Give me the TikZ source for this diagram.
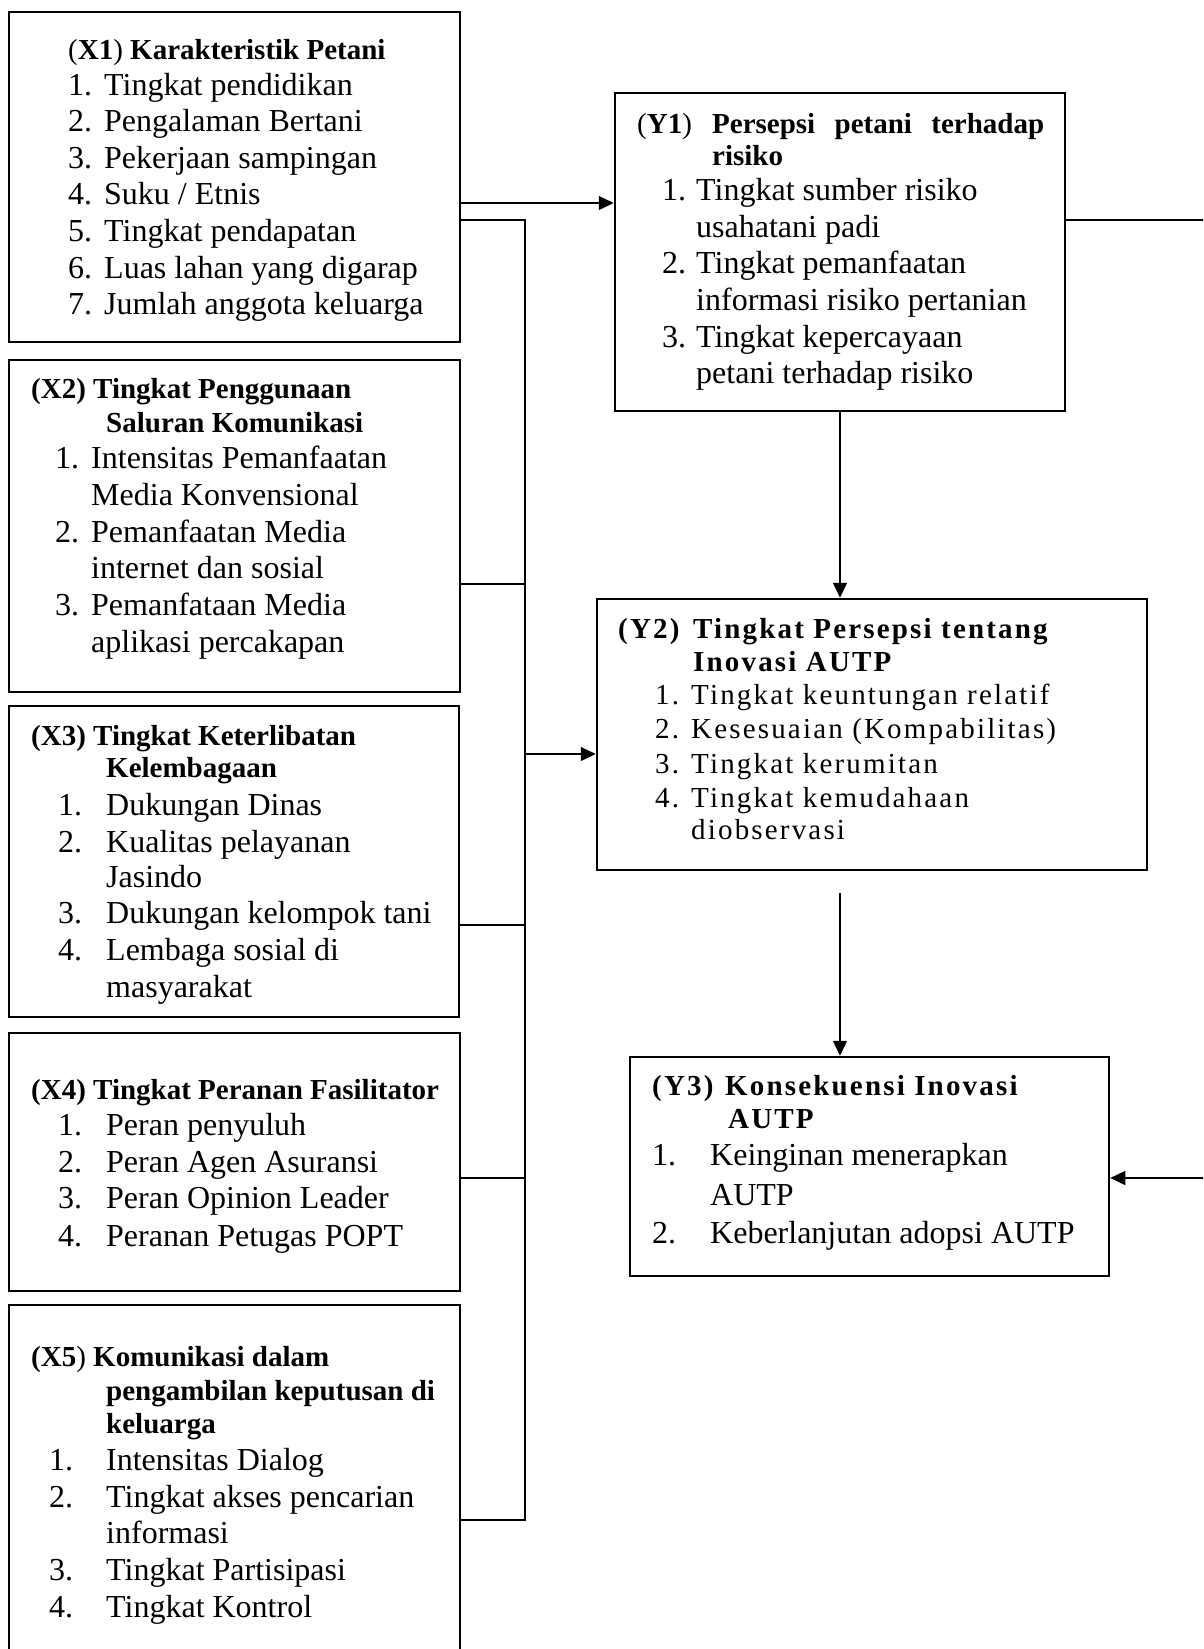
\documentclass[tikz,border=0pt]{standalone}
\usepackage{fontspec}
\setmainfont{Liberation Serif}
\newfontfamily\spacedfont[LetterSpace=7.5]{Liberation Serif}
\usetikzlibrary{arrows.meta}

\tikzset{
  box/.style={draw, line width=2.5pt, inner sep=0pt},
  conn/.style={line width=1.3pt},
  arr/.style={conn, -{Triangle[length=15pt,width=14pt]}},
  tx/.style={anchor=base west, inner sep=0pt, font=\fontsize{32}{36}\selectfont},
  hd/.style={anchor=base west, inner sep=0pt, font=\bfseries\fontsize{29}{33}\selectfont},
  sp/.style={anchor=base west, inner sep=0pt, font=\spacedfont\fontsize{29}{33}\selectfont},
  sphd/.style={anchor=base west, inner sep=0pt, font=\spacedfont\bfseries\fontsize{29}{33}\selectfont},
}
% list number hanging to the left of the item text
\newcommand\nr[2]{\llap{\makebox[#1pt][l]{#2}}}
\newcommand\rp[1]{{\mdseries#1}}

\begin{document}
\begin{tikzpicture}[x=1pt,y=-1pt]
\useasboundingbox (0,0) rectangle (1203,1649);
\clip (0,0) rectangle (1203,1649);

% ---------- boxes ----------
\node[box, minimum width=451, minimum height=330] (X1) at (234.5,177) {};
\node[box, minimum width=451, minimum height=332] (X2) at (234.5,526) {};
\node[box, minimum width=450, minimum height=311] (X3) at (234,861.5) {};
\node[box, minimum width=451, minimum height=258] (X4) at (234.5,1162) {};
\node[box, minimum width=451, minimum height=375] (X5) at (234.5,1492.5) {};
\node[box, minimum width=450, minimum height=318] (Y1) at (840,252) {};
\node[box, minimum width=550, minimum height=271] (Y2) at (872,734.5) {};
\node[box, minimum width=479, minimum height=219] (Y3) at (869.5,1166.5) {};

% ---------- X1 ----------
\node[hd] (X1h) at (68,59) {\rp{(}X1\rp{)} Karakteristik Petani};
\node[tx] (X1a) at (104,95)    {\nr{36}{1.}Tingkat pendidikan};
\node[tx] (X1b) at (104,131.6) {\nr{36}{2.}Pengalaman Bertani};
\node[tx] (X1c) at (104,168.2) {\nr{36}{3.}Pekerjaan sampingan};
\node[tx] (X1d) at (104,204.8) {\nr{36}{4.}Suku / Etnis};
\node[tx] (X1e) at (104,241.4) {\nr{36}{5.}Tingkat pendapatan};
\node[tx] (X1f) at (104,278)   {\nr{36}{6.}Luas lahan yang digarap};
\node[tx] (X1g) at (104,314.6) {\nr{36}{7.}Jumlah anggota keluarga};

% ---------- X2 ----------
\node[hd] (X2h) at (31,398) {(X2) Tingkat Penggunaan};
\node[hd] (X2i) at (106,432) {Saluran Komunikasi};
\node[tx] (X2a) at (91,468) {\nr{36}{1.}Intensitas Pemanfaatan};
\node[tx] (X2b) at (91,505) {Media Konvensional};
\node[tx] (X2c) at (91,542) {\nr{36}{2.}Pemanfaatan Media};
\node[tx] (X2d) at (91,578) {internet dan sosial};
\node[tx] (X2e) at (91,615) {\nr{36}{3.}Pemanfataan Media};
\node[tx] (X2f) at (91,652) {aplikasi percakapan};

% ---------- X3 ----------
\node[hd] (X3h) at (31,745) {(X3) Tingkat Keterlibatan};
\node[hd] (X3i) at (106,777) {Kelembagaan};
\node[tx] (X3a) at (106,815) {\nr{48}{1.}Dukungan Dinas};
\node[tx] (X3b) at (106,852) {\nr{48}{2.}Kualitas pelayanan};
\node[tx] (X3c) at (106,887) {Jasindo};
\node[tx] (X3d) at (106,923) {\nr{48}{3.}Dukungan kelompok tani};
\node[tx] (X3e) at (106,960) {\nr{48}{4.}Lembaga sosial di};
\node[tx] (X3f) at (106,997) {masyarakat};

% ---------- X4 ----------
\node[hd] (X4h) at (31,1099) {(X4) Tingkat Peranan Fasilitator};
\node[tx] (X4a) at (106,1135) {\nr{48}{1.}Peran penyuluh};
\node[tx] (X4b) at (106,1172) {\nr{48}{2.}Peran Agen Asuransi};
\node[tx] (X4c) at (106,1208) {\nr{48}{3.}Peran Opinion Leader};
\node[tx] (X4d) at (106,1246) {\nr{48}{4.}Peranan Petugas POPT};

% ---------- X5 ----------
\node[hd] (X5h) at (31,1366) {(X5\rp{)} Komunikasi dalam};
\node[hd] (X5i) at (106,1400) {pengambilan keputusan di};
\node[hd] (X5j) at (106,1433) {keluarga};
\node[tx] (X5a) at (106,1470) {\nr{57}{1.}Intensitas Dialog};
\node[tx] (X5b) at (106,1507) {\nr{57}{2.}Tingkat akses pencarian};
\node[tx] (X5c) at (106,1543) {informasi};
\node[tx] (X5d) at (106,1580) {\nr{57}{3.}Tingkat Partisipasi};
\node[tx] (X5e) at (106,1617) {\nr{57}{4.}Tingkat Kontrol};

% ---------- Y1 ----------
\node[hd] (Y1l) at (637,133) {\rp{(}Y1\rp{)}};
\node[hd] (Y1h) at (712,133) {\makebox[332pt][s]{Persepsi petani terhadap}};
\node[hd] (Y1i) at (712,165) {risiko};
\node[tx] (Y1a) at (696,200) {\nr{34}{1.}Tingkat sumber risiko};
\node[tx] (Y1b) at (696,237) {usahatani padi};
\node[tx] (Y1c) at (696,273) {\nr{34}{2.}Tingkat pemanfaatan};
\node[tx] (Y1d) at (696,310) {informasi risiko pertanian};
\node[tx] (Y1e) at (696,347) {\nr{34}{3.}Tingkat kepercayaan};
\node[tx] (Y1f) at (696,383) {petani terhadap risiko};

% ---------- Y2 ----------
\node[sphd] (Y2l) at (618,638) {(Y2)};
\node[sphd] (Y2h) at (693,638) {Tingkat Persepsi tentang};
\node[sphd] (Y2i) at (693,671) {Inovasi AUTP};
\node[sp] (Y2a) at (691,704) {\nr{36}{1.}Tingkat keuntungan relatif};
\node[sp] (Y2b) at (691,738) {\nr{36}{2.}Kesesuaian (Kompabilitas)};
\node[sp] (Y2c) at (691,773) {\nr{36}{3.}Tingkat kerumitan};
\node[sp] (Y2d) at (691,807) {\nr{36}{4.}Tingkat kemudahaan};
\node[sp] (Y2e) at (691,839) {diobservasi};

% ---------- Y3 ----------
\node[sphd] (Y3l) at (652,1095) {(Y3)};
\node[sphd] (Y3h) at (725,1095) {Konsekuensi Inovasi};
\node[sphd] (Y3i) at (728,1128) {AUTP};
\node[tx] (Y3a) at (710,1165) {\nr{58}{1.}Keinginan menerapkan};
\node[tx] (Y3b) at (710,1205) {AUTP};
\node[tx] (Y3c) at (710,1243) {\nr{58}{2.}Keberlanjutan adopsi AUTP};

% ---------- connector points ----------
\coordinate (t1) at (525,220);
\coordinate (t2) at (525,584);
\coordinate (t3) at (525,925);
\coordinate (t4) at (525,1178);
\coordinate (t5) at (525,1520);
\coordinate (ty2) at (525,754);
\coordinate (a1) at (0,203);
\coordinate (r1) at (1215,220);
\coordinate (r3) at (1215,1178);
\coordinate (c23) at (840,893);

% ---------- connectors ----------
\draw[conn] (X1.east |- t1) -- (t1) -- (t5) -- (X5.east |- t5);
\draw[conn] (X2.east |- t2) -- (t2);
\draw[conn] (X3.east |- t3) -- (t3);
\draw[conn] (X4.east |- t4) -- (t4);
\draw[arr] (ty2) -- (Y2.west |- ty2);
\draw[arr] (X1.east |- a1) -- (Y1.west |- a1);
\draw[arr] (Y1.south) -- (Y1.south |- Y2.north);
\draw[arr] (c23) -- (c23 |- Y3.north);
\draw[arr] (Y1.east |- r1) -- (r1) -- (r3) -- (Y3.east |- r3);
\end{tikzpicture}
\end{document}
